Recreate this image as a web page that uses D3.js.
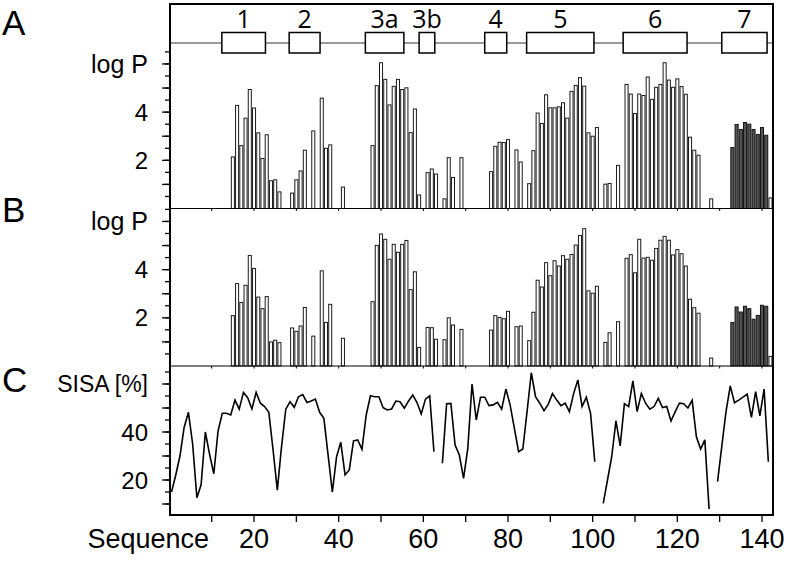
<!DOCTYPE html>
<html>
<head>
<meta charset="utf-8">
<script src="https://cdn.jsdelivr.net/npm/d3@7"></script>
<style>
  body { margin: 0; background: #fff; }
  svg { display: block; }
  text { font-family: "Liberation Sans", Arial, sans-serif; fill: #000; }
</style>
</head>
<body>
<div id="chart"></div>
<script>
// residues that carry a bar in panels A and B
const residues = [15,16,17,18,19,20,21,22,23,24,25,26, 29,30,31,32,34,36,37,38,41,
    48,49,50,51,52,53,54,55,56,57,58,59, 61,62,63,65,66,67,69,
    76,77,78,79,80,82,83, 85,86,87,88,89,90,91,92,93,94,95,96,97,98,99,100,101,
    103,104,106, 108,109,110,111,112,113,114,115,116,117,118,119,120,121,122,123,124,125,
    128, 133,134,135,136,137,138,139,140,141, 142];

const logPA = [2.14,4.28,2.61,3.75,4.94,4.17,3.14,2.08,3.06,1.15,1.19,0.69,
    0.64,1.19,1.56,2.42,3.22,4.58,2.5,2.64,0.89,
    2.61,5.1,6.05,5.36,4.3,5.07,5.36,4.94,5.01,3.15,4.13,0.56,
    1.49,1.64,1.43,0.4,2.11,1.29,2.11,
    1.53,2.58,2.75,2.74,2.86,2.43,1.93,
    1.03,2.4,3.96,3.53,4.72,4.18,4.18,4.22,4.39,3.75,4.86,5.11,5.43,5.08,3.14,3.0,3.36,
    1.01,1.04,1.79,
    5.15,4.75,3.94,4.75,4.69,5.46,4.53,5.03,5.15,6.05,5.33,5.03,5.38,5.06,4.74,2.96,2.42,2.21,
    0.4, 2.53,3.49,3.28,3.57,3.5,3.28,3.07,3.36,3.04, 0.44];

const logPB = [2.09,3.42,2.64,3.35,4.59,4.05,2.86,2.38,2.88,1.0,1.07,0.97,
    1.58,1.44,1.66,2.43,1.24,3.95,1.81,2.56,1.15,
    2.67,5.01,5.48,5.26,4.43,5.05,4.72,5.05,5.21,3.17,3.91,0.77,
    1.6,1.59,1.11,1.09,2.0,1.7,1.52,
    1.49,2.09,2.02,1.96,2.27,1.63,1.66,
    1.05,2.23,3.56,3.28,4.29,3.75,4.37,4.15,4.58,4.43,4.63,5.02,5.42,5.7,3.12,3.02,3.31,
    0.98,1.38,1.84,
    4.47,4.62,3.87,5.26,4.48,4.51,4.39,4.88,5.22,5.38,5.22,4.61,4.83,4.66,4.15,2.77,2.42,2.19,
    0.33, 1.81,2.45,2.24,2.48,2.38,1.94,2.1,2.52,2.48, 0.4];

// residues drawn as dark bars
const shadedResidues = [133,134,135,136,137,138,139,140,141];

// SISA per residue step (null = gap in the line)
const sisa = [15,22,30,42,48.2,35,12.6,18,40,30.7, 22.6,40.4,47.8,47.8,47.1,53.3,49.5,56.5,54.3,49.6,
    56.5,52,50.6,48.2,32.5,15.8,33.9,49.5,52.6,50.3, 54.7,55.6,52.3,52.9,53.7,48.2,45.7,30.4,14.9,29.7,
    35.7,22.1,24.2,36.3,36.7,32.8,47.1,55.1,54.7,54.7, 50.1,49.2,49.6,52.9,52.6,49.9,52.9,55.4,52.3,47.5,
    53.7,55.1,31.8,null,27,51.8,51.9,34.6,30.4,20.7, 33.2,60,45,54.5,54.5,51,51.3,52.4,49.5,57.9,
    51.3,41.5,31.8,32.9,48.5,64.7,54.7,52,48.9,51.5, 56,53.3,51,52,48.5,56,61.7,50.6,54.5,47.8,
    27.6,null,10.3,20,29.7,44.6,34.2,51.8,50.6,61.3, 48.5,56,52,49.5,50.6,54,50.2,50.6,44.6,48.5,
    52,51.8,50,53.2,38,32.9,36.7,7.9,null,19.3, 34,48.5,59.2,52.2,53.3,54.5,55.8,46.1,56.8,46.7,
    57.9,27.6];

const segNames = ["1","2","3a","3b","4","5","6","7"];
const segStart = [12.4,28.3,46.3,59.0,74.5,84.4,107.2,130.5];
const segEnd   = [22.7,35.6,55.4,62.7,79.7,100.3,122.3,141.2];

const xTickLabels = [20,40,60,80,100,120,140];

const W = 789, H = 562;
const L = 170, R = 773, T = 4, B = 515;

const svg = d3.select("#chart").append("svg")
    .attr("width", W).attr("height", H);

const x = d3.scaleLinear().domain([0.15, 142.6]).range([L, R]);
const yA = d3.scaleLinear().domain([0, 6.5]).range([208.5, 51.9]);
const yB = d3.scaleLinear().domain([0, 6.5]).range([366, 209.4]);
const yC = d3.scaleLinear().domain([20, 60]).range([480, 384]);

const bw = (x(1) - x(0)) * 0.72;
const bars = residues.map((r, i) => ({ r, a: logPA[i], b: logPB[i], dark: shadedResidues.includes(r) }));

function drawBars(key, y) {
    svg.append("g").selectAll("rect")
        .data(bars)
        .enter().append("rect")
        .attr("x", d => x(d.r) - bw / 2)
        .attr("width", bw)
        .attr("y", d => y(d[key]))
        .attr("height", d => y(0) - y(d[key]))
        .attr("fill", d => d.dark ? "#555" : "#fff")
        .attr("stroke", d => d.dark ? "#111" : "#1a1a1a")
        .attr("stroke-width", 1);
}
drawBars("a", yA);
drawBars("b", yB);

// gene structure
svg.append("line")
    .attr("x1", L).attr("x2", R).attr("y1", 43).attr("y2", 43)
    .attr("stroke", "#777").attr("stroke-width", 1.6);
const seg = svg.append("g").selectAll("g")
    .data(segNames.map((n, i) => ({ n, s: segStart[i], e: segEnd[i] })))
    .enter().append("g");
seg.append("rect")
    .attr("x", d => x(d.s)).attr("width", d => x(d.e) - x(d.s))
    .attr("y", 32.5).attr("height", 20.5)
    .attr("fill", "#fff").attr("stroke", "#000").attr("stroke-width", 1.5);
seg.append("text")
    .attr("x", d => (x(d.s) + x(d.e)) / 2).attr("y", 28)
    .attr("text-anchor", "middle")
    .style("font-family", "'Open Sans', sans-serif")
    .style("font-size", "25px")
    .text(d => d.n);

// SISA line
const line = d3.line()
    .defined(d => d != null)
    .x((d, i) => x(i + 0.5))
    .y(d => yC(d));
svg.append("path")
    .datum(sisa)
    .attr("d", line)
    .attr("fill", "none").attr("stroke", "#000").attr("stroke-width", 1.6)
    .attr("stroke-linejoin", "miter");

// panel dividers
[yA(0), yB(0)].forEach(yy => {
    svg.append("line").attr("x1", L).attr("x2", R).attr("y1", yy).attr("y2", yy)
        .attr("stroke", "#000").attr("stroke-width", 1.2);
    svg.append("g").selectAll("line").data(d3.range(10, 141, 10)).enter().append("line")
        .attr("x1", d => x(d)).attr("x2", d => x(d))
        .attr("y1", yy).attr("y2", yy + 2.5)
        .attr("stroke", "#000").attr("stroke-width", 1);
});

// y axes
function yTicks(y, minor, major, fmt) {
    const g = svg.append("g");
    g.selectAll("line.mi").data(minor).enter().append("line")
        .attr("x1", L - 5).attr("x2", L).attr("y1", d => y(d)).attr("y2", d => y(d))
        .attr("stroke", "#000").attr("stroke-width", 1.3);
    g.selectAll("line.ma").data(major).enter().append("line")
        .attr("x1", L - 8).attr("x2", L).attr("y1", d => y(d)).attr("y2", d => y(d))
        .attr("stroke", "#000").attr("stroke-width", 1.3);
    g.selectAll("text").data(fmt).enter().append("text")
        .attr("x", 148).attr("y", d => y(d[0]))
        .attr("dy", "0.36em")
        .attr("text-anchor", "end")
        .style("font-size", d => d[2])
        .text(d => d[1]);
}
const halfSteps = d3.range(0.5, 6.51, 0.5);
yTicks(yA, halfSteps, d3.range(1, 6.1, 1), [[6, "log P", "25px"], [4, "4", "24px"], [2, "2", "24px"]]);
yTicks(yB, halfSteps, d3.range(1, 6.1, 1), [[6, "log P", "25px"], [4, "4", "24px"], [2, "2", "24px"]]);
yTicks(yC, d3.range(10, 66, 5), d3.range(10, 61, 10), [[60, "SISA [%]", "23px"], [40, "40", "24px"], [20, "20", "24px"]]);

// x axis
const xAxis = svg.append("g");
xAxis.selectAll("line").data(d3.range(10, 141, 10)).enter().append("line")
    .attr("x1", d => x(d)).attr("x2", d => x(d))
    .attr("y1", B).attr("y2", B + 7)
    .attr("stroke", "#000").attr("stroke-width", 1.3);
xAxis.selectAll("text").data(xTickLabels).enter().append("text")
    .attr("x", d => x(d)).attr("y", 548)
    .attr("text-anchor", "middle")
    .style("font-size", "27px")
    .text(d => d);
svg.append("text").attr("x", 209).attr("y", 548)
    .attr("text-anchor", "end").style("font-size", "27px").text("Sequence");

// frame
svg.append("rect")
    .attr("x", L).attr("y", T).attr("width", R - L).attr("height", B - T)
    .attr("fill", "none").attr("stroke", "#000").attr("stroke-width", 2);

// panel letters
[["A", 35], ["B", 222], ["C", 392]].forEach(([t, yy]) => {
    svg.append("text").attr("x", 2).attr("y", yy)
        .style("font-size", "35px").text(t);
});
</script>
</body>
</html>
